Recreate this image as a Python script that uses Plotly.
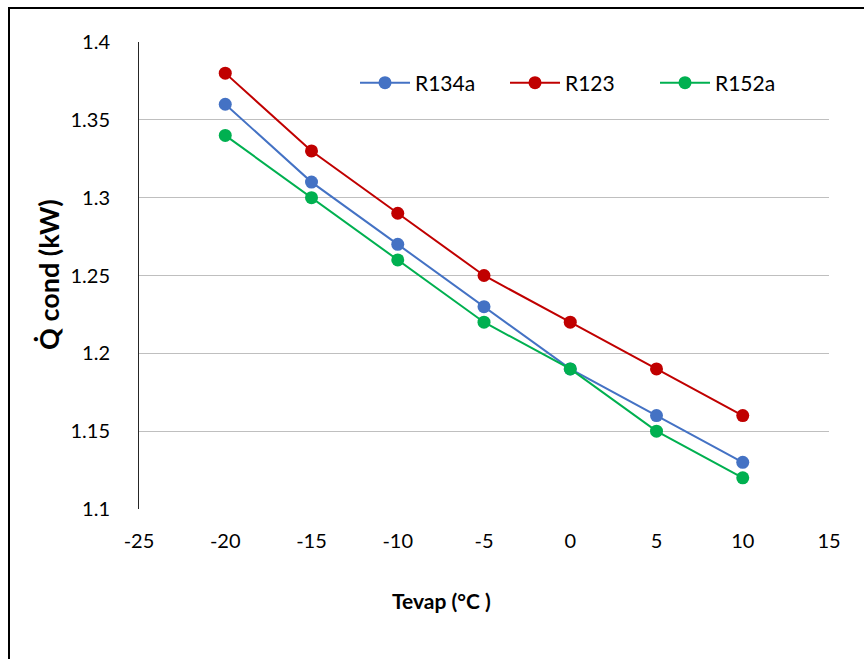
import plotly.graph_objects as go

tevap = [-20, -15, -10, -5, 0, 5, 10]
r134a = [1.36, 1.31, 1.27, 1.23, 1.19, 1.16, 1.13]
r123 = [1.38, 1.33, 1.29, 1.25, 1.22, 1.19, 1.16]
r152a = [1.34, 1.30, 1.26, 1.22, 1.19, 1.15, 1.12]
x_ticks = [-25, -20, -15, -10, -5, 0, 5, 10, 15]
x_ticktext = ["-25", "-20", "-15", "-10", "-5", "0", "5", "10", "15"]
y_ticks = [1.1, 1.15, 1.2, 1.25, 1.3, 1.35, 1.4]
y_ticktext = ["1.1", "1.15", "1.2", "1.25", "1.3", "1.35", "1.4"]

series = [("R134a", r134a, "#4472C4"), ("R123", r123, "#C00000"), ("R152a", r152a, "#00B050")]

fig = go.Figure()
for name, vals, col in series:
    fig.add_trace(go.Scatter(x=tevap, y=vals, name=name, mode="lines+markers",
                             line=dict(color=col, width=2),
                             marker=dict(color=col, size=13)))

W, H = 864, 659
L, R, T, B = 139, 35, 42, 150
pw, ph = W - L - R, H - T - B

fig.update_layout(
    width=W, height=H,
    margin=dict(l=L, r=R, t=T, b=B),
    plot_bgcolor="white", paper_bgcolor="white",
    font=dict(family="Lato, Liberation Sans, sans-serif", size=20, color="black"),
    showlegend=True,
    legend=dict(orientation="h", x=(355 - L) / pw, y=1 - (83 - T) / ph, xanchor="left", yanchor="middle",
                font=dict(size=21), bgcolor="rgba(0,0,0,0)", itemwidth=50,
                entrywidth=85, entrywidthmode="pixels"),
    xaxis=dict(range=[-25, 15], tickvals=x_ticks, ticktext=x_ticktext,
               showgrid=False, zeroline=False, showline=False, ticks="",
               ticklabelstandoff=18),
    yaxis=dict(range=[1.1, 1.4], tickvals=y_ticks, ticktext=y_ticktext,
               showgrid=True, gridcolor="#BFBFBF", gridwidth=1, zeroline=False,
               showline=True, linecolor="#262626", linewidth=1, ticks="",
               ticklabelstandoff=24),
)

fig.add_annotation(text="<b>Tevap (°C )</b>", xref="paper", yref="paper",
                   x=(441 - L) / pw, y=1 - (600 - T) / ph, xanchor="center", yanchor="middle",
                   showarrow=False, font=dict(size=21))
fig.add_annotation(text="<b>Q\u0307 cond (kW)</b>", xref="paper", yref="paper",
                   x=(48 - L) / pw, y=1 - (275 - T) / ph, xanchor="center", yanchor="middle",
                   textangle=-90, showarrow=False, font=dict(size=27))

# outer chart border (left and top visible)
fig.add_shape(type="rect", xref="paper", yref="paper",
              x0=(9 - L) / pw, x1=(875 - L) / pw,
              y0=1 - (675 - T) / ph, y1=1 + (T - 8) / ph,
              line=dict(color="black", width=2), layer="below")

fig.write_html("out.html")
